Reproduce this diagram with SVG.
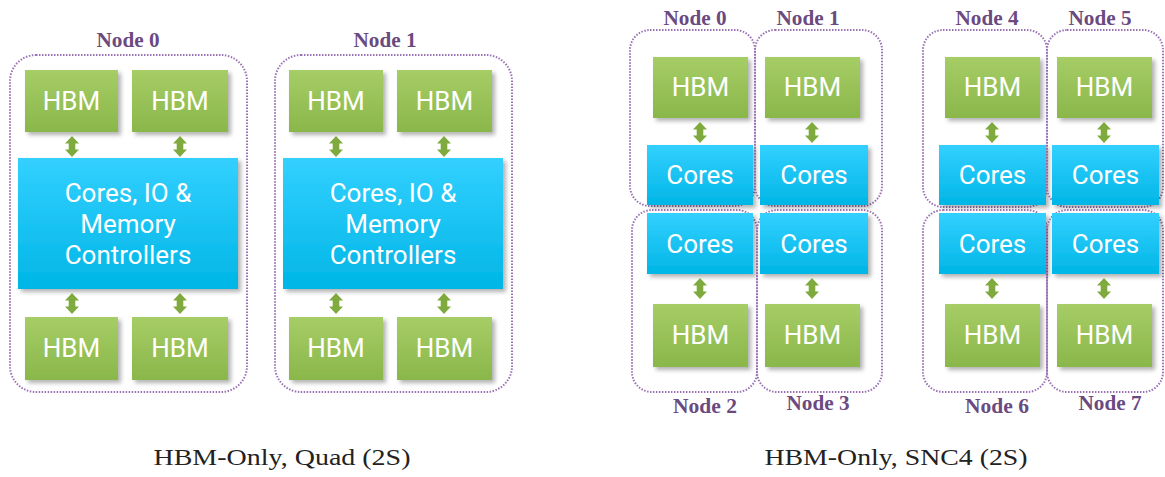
<svg xmlns="http://www.w3.org/2000/svg" width="1165" height="477" viewBox="0 0 1165 477">
<defs>
<linearGradient id="gHbm" x1="0" y1="0" x2="0" y2="1"><stop offset="0" stop-color="#a6cd66"/><stop offset="1" stop-color="#8ab74a"/></linearGradient>
<linearGradient id="gCore" x1="0" y1="0" x2="0" y2="1"><stop offset="0" stop-color="#33d0ff"/><stop offset="1" stop-color="#00b6e6"/></linearGradient>
<filter id="sh" x="-10%" y="-10%" width="130%" height="130%"><feDropShadow dx="3" dy="3" stdDeviation="2" flood-color="#000" flood-opacity="0.3"/></filter>
<path id="arr" d="M0,0 L7,7.5 L3.3,7.5 L3.3,13.5 L7,13.5 L0,21 L-7,13.5 L-3.3,13.5 L-3.3,7.5 L-7,7.5 Z"/>
</defs>
<style>
.hbm{fill:url(#gHbm);filter:url(#sh)}
.core{fill:url(#gCore);filter:url(#sh)}
.box{fill:none;stroke:#9a72b4;stroke-width:2;stroke-dasharray:1.5 1.5}
.t{font-family:Roboto,"Open Sans",sans-serif;fill:#fff;text-anchor:middle;font-size:26px}
.lbl{font-family:"Liberation Serif","DejaVu Serif",serif;fill:#6a4a80;text-anchor:middle;font-size:20px;font-weight:bold}
.cap{font-family:"Liberation Serif","DejaVu Serif",serif;fill:#222;text-anchor:middle;font-size:24px}
.arrow{fill:#7fab3e}
</style>
<rect width="1165" height="477" fill="#fff"/>

<!-- Left: Quad -->
<g id="quad-node0">
<rect class="box" x="10" y="55" width="237" height="337" rx="26"/>
<text class="lbl" x="128" y="47" textLength="63" lengthAdjust="spacingAndGlyphs">Node 0</text>
<rect class="hbm" x="25" y="70" width="93" height="62"/><text class="t" x="71.5" y="110">HBM</text>
<rect class="hbm" x="132" y="70" width="96" height="62"/><text class="t" x="180" y="110">HBM</text>
<rect class="core" x="18" y="158" width="220" height="131"/>
<text class="t" x="128" y="202">Cores, IO &amp;</text>
<text class="t" x="128" y="233">Memory</text>
<text class="t" x="128" y="264">Controllers</text>
<rect class="hbm" x="25" y="317" width="93" height="63"/><text class="t" x="71.5" y="357">HBM</text>
<rect class="hbm" x="132" y="317" width="96" height="63"/><text class="t" x="180" y="357">HBM</text>
</g>
<g id="quad-node1">
<rect class="box" x="275" y="55" width="237" height="337" rx="26"/>
<text class="lbl" x="385" y="47" textLength="63" lengthAdjust="spacingAndGlyphs">Node 1</text>
<rect class="hbm" x="289" y="70" width="94" height="62"/><text class="t" x="336" y="110">HBM</text>
<rect class="hbm" x="397" y="70" width="95" height="62"/><text class="t" x="444.5" y="110">HBM</text>
<rect class="core" x="283" y="158" width="220" height="131"/>
<text class="t" x="393" y="202">Cores, IO &amp;</text>
<text class="t" x="393" y="233">Memory</text>
<text class="t" x="393" y="264">Controllers</text>
<rect class="hbm" x="289" y="317" width="94" height="63"/><text class="t" x="336" y="357">HBM</text>
<rect class="hbm" x="397" y="317" width="95" height="63"/><text class="t" x="444.5" y="357">HBM</text>
</g>

<!-- Right: SNC4 -->
<g id="snc-node0">
<rect class="box" x="630" y="30" width="125" height="176" rx="20"/>
<text class="lbl" x="695" y="25" textLength="63" lengthAdjust="spacingAndGlyphs">Node 0</text>
<rect class="hbm" x="653" y="57" width="95" height="61"/><text class="t" x="700.5" y="96">HBM</text>
<rect class="core" x="647" y="145" width="106" height="60"/><text class="t" x="700" y="184">Cores</text>
</g>
<g id="snc-node1">
<rect class="box" x="755" y="30" width="127" height="176" rx="20"/>
<text class="lbl" x="808" y="25" textLength="63" lengthAdjust="spacingAndGlyphs">Node 1</text>
<rect class="hbm" x="765" y="57" width="95" height="61"/><text class="t" x="812.5" y="96">HBM</text>
<rect class="core" x="760" y="145" width="108" height="60"/><text class="t" x="814" y="184">Cores</text>
</g>
<g id="snc-node2">
<rect class="box" x="632" y="210" width="125" height="182" rx="20"/>
<text class="lbl" x="705" y="413" textLength="64" lengthAdjust="spacingAndGlyphs">Node 2</text>
<rect class="core" x="647" y="213" width="106" height="61"/><text class="t" x="700" y="253">Cores</text>
<rect class="hbm" x="653" y="304" width="95" height="63"/><text class="t" x="700.5" y="344">HBM</text>
</g>
<g id="snc-node3">
<rect class="box" x="757" y="210" width="125" height="182" rx="20"/>
<text class="lbl" x="818" y="410" textLength="63" lengthAdjust="spacingAndGlyphs">Node 3</text>
<rect class="core" x="760" y="213" width="108" height="61"/><text class="t" x="814" y="253">Cores</text>
<rect class="hbm" x="765" y="304" width="95" height="63"/><text class="t" x="812.5" y="344">HBM</text>
</g>
<g id="snc-node4">
<rect class="box" x="923" y="30" width="124" height="177" rx="20"/>
<text class="lbl" x="987" y="25" textLength="63" lengthAdjust="spacingAndGlyphs">Node 4</text>
<rect class="hbm" x="945" y="57" width="95" height="61"/><text class="t" x="992.5" y="96">HBM</text>
<rect class="core" x="939" y="145" width="107" height="60"/><text class="t" x="992.5" y="184">Cores</text>
</g>
<g id="snc-node5">
<rect class="box" x="1047" y="30" width="116" height="177" rx="20"/>
<text class="lbl" x="1100" y="25" textLength="63" lengthAdjust="spacingAndGlyphs">Node 5</text>
<rect class="hbm" x="1057" y="57" width="95" height="61"/><text class="t" x="1104.5" y="96">HBM</text>
<rect class="core" x="1052" y="145" width="107" height="60"/><text class="t" x="1105.5" y="184">Cores</text>
</g>
<g id="snc-node6">
<rect class="box" x="923" y="210" width="124" height="182" rx="20"/>
<text class="lbl" x="997" y="413" textLength="64" lengthAdjust="spacingAndGlyphs">Node 6</text>
<rect class="core" x="939" y="213" width="107" height="61"/><text class="t" x="992.5" y="253">Cores</text>
<rect class="hbm" x="945" y="304" width="95" height="63"/><text class="t" x="992.5" y="344">HBM</text>
</g>
<g id="snc-node7">
<rect class="box" x="1047" y="210" width="116" height="182" rx="20"/>
<text class="lbl" x="1110" y="410" textLength="63" lengthAdjust="spacingAndGlyphs">Node 7</text>
<rect class="core" x="1052" y="213" width="107" height="61"/><text class="t" x="1105.5" y="253">Cores</text>
<rect class="hbm" x="1057" y="304" width="95" height="63"/><text class="t" x="1104.5" y="344">HBM</text>
</g>

<g id="connectors" class="arrow">
<use href="#arr" x="72" y="136"/>
<use href="#arr" x="180" y="136"/>
<use href="#arr" x="72" y="293"/>
<use href="#arr" x="180" y="293"/>
<use href="#arr" x="336" y="136"/>
<use href="#arr" x="444" y="136"/>
<use href="#arr" x="336" y="293"/>
<use href="#arr" x="444" y="293"/>
<use href="#arr" x="700" y="122"/>
<use href="#arr" x="812" y="122"/>
<use href="#arr" x="700" y="278"/>
<use href="#arr" x="812" y="278"/>
<use href="#arr" x="992" y="122"/>
<use href="#arr" x="1104" y="122"/>
<use href="#arr" x="992" y="278"/>
<use href="#arr" x="1104" y="278"/>
</g>

<text class="cap" x="282" y="465" textLength="257" lengthAdjust="spacingAndGlyphs">HBM-Only, Quad (2S)</text>
<text class="cap" x="896" y="465" textLength="263" lengthAdjust="spacingAndGlyphs">HBM-Only, SNC4 (2S)</text>
</svg>
